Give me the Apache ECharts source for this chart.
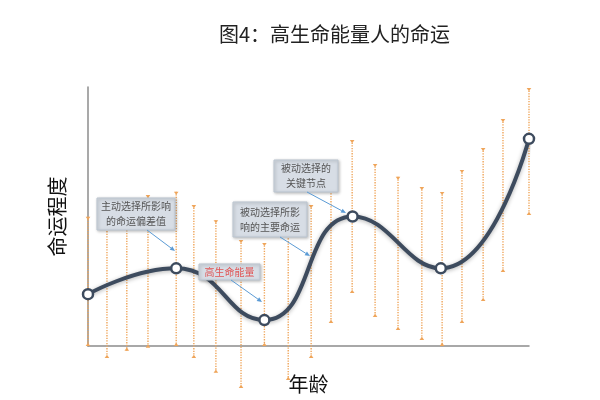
<!DOCTYPE html>
<html><head><meta charset="utf-8">
<script src="https://cdn.jsdelivr.net/npm/echarts@6/dist/echarts.min.js"></script>
<style>html,body{margin:0;padding:0;background:#fff}#c{width:600px;height:400px}</style>
</head><body><div id="c"></div>
<script>
const titleText = '图4：高生命能量人的命运';
const xAxisName = '年龄';
const yAxisName = '命运程度';
const curveAges = [0, 20, 40, 60, 80, 100];
const curveValues = [20, 30, 10, 50, 30, 80];
const barAges = [0, 4.3, 8.8, 13.6, 20, 24, 29, 34.7, 40, 45.4, 50.6, 55.1, 59.9, 65.1, 70.3, 75.7, 80.3, 84.8, 89.6, 94.1, 100];
const barTops = [49.9, 54.4, 51.7, 58.3, 59.6, 54.4, 48.6, 40.9, 39.8, 45.6, 54.4, 68, 79.5, 70.3, 65.3, 61.4, 59.5, 68, 76.4, 87.6, 99.6];
const barBottoms = [0, -4.6, -1.8, -0.7, 0, -4.6, -10.3, -16.2, 0, -13.1, -4.6, 8.9, 20.5, 11.2, 6.2, 2.3, 0, 8.9, 17.4, 28.6, 50.6];
const noteTexts = ['主动选择所影响\n的命运偏差值', '高生命能量', '被动选择所影\n响的主要命运', '被动选择的\n关键节点'];

const FONT = '"Noto Sans CJK SC", "Noto Sans", sans-serif';
const chart = echarts.init(document.getElementById('c'), null, {renderer: 'canvas'});

function note(text, x, y, w, h, color, ax1, ay1, ax2, ay2) {
  const dx = ax2 - ax1, dy = ay2 - ay1, L = Math.sqrt(dx*dx + dy*dy);
  const ux = dx / L, uy = dy / L, hl = 5, hw = 2.2;
  const bx = ax2 - ux*hl, by = ay2 - uy*hl;
  return [
    {type: 'rect', z: 20, shape: {x: x, y: y, width: w, height: h},
     style: {fill: '#D7DDE5', stroke: '#BBC5D0', lineWidth: 1, shadowBlur: 3, shadowColor: 'rgba(0,0,0,0.25)', shadowOffsetX: 1, shadowOffsetY: 1}},
    {type: 'text', z: 21, x: x + w/2, y: y + h/2,
     style: {text: text, fill: color, font: '10px ' + FONT, align: 'center', verticalAlign: 'middle', lineHeight: 15}},
    {type: 'line', z: 20, shape: {x1: ax1, y1: ay1, x2: bx, y2: by}, style: {stroke: '#5B9BD5', lineWidth: 1}},
    {type: 'polygon', z: 20, shape: {points: [[ax2, ay2], [bx - uy*hw, by + ux*hw], [bx + uy*hw, by - ux*hw]]}, style: {fill: '#5B9BD5'}}
  ];
}

const graphics = [].concat(
  note(noteTexts[0], 97, 198, 78, 32, '#555', 147, 230, 175, 251),
  note(noteTexts[1], 199, 264, 61, 16, '#E05555', 231, 280, 262, 302),
  note(noteTexts[2], 233, 202, 74, 35, '#555', 280, 237, 310, 256),
  note(noteTexts[3], 274, 160, 64, 32, '#555', 307, 192, 346, 213)
);

chart.setOption({
  backgroundColor: '#fff',
  animation: false,
  title: {text: titleText, left: 214, top: 19,
    textStyle: {fontFamily: FONT, fontSize: 20, fontWeight: 'normal', color: '#222'}},
  grid: {left: 88, right: 71, top: 87, bottom: 54, containLabel: false, outerBoundsMode: 'none'},
  xAxis: {type: 'value', min: 0, max: 100,
    name: xAxisName, nameLocation: 'middle', nameGap: 28,
    nameTextStyle: {fontFamily: FONT, fontSize: 20, color: '#111'},
    axisLine: {show: true, lineStyle: {color: '#8C8C8C', width: 1.5}},
    axisTick: {show: false}, axisLabel: {show: false}, splitLine: {show: false}},
  yAxis: {type: 'value', min: 0, max: 100,
    name: yAxisName, nameLocation: 'middle', nameGap: 21, nameRotate: 90,
    nameTextStyle: {fontFamily: FONT, fontSize: 20, color: '#111'},
    axisLine: {show: true, lineStyle: {color: '#8C8C8C', width: 1.5}},
    axisTick: {show: false}, axisLabel: {show: false}, splitLine: {show: false}},
  graphic: graphics,
  series: [
    {type: 'custom', clip: false, z: 2,
     encode: {x: 0, y: [1, 2]},
     data: barAges.map((a, i) => [a, barBottoms[i], barTops[i]]),
     renderItem: function (params, api) {
       const x = api.value(0), lo = api.value(1), hi = api.value(2);
       const p1 = api.coord([x, hi]), p2 = api.coord([x, lo]);
       const c = '#EFA55A';
       return {type: 'group', children: [
         {type: 'line', shape: {x1: p1[0], y1: p1[1], x2: p2[0], y2: p2[1]}, style: {stroke: c, lineWidth: 1.4, lineDash: [1.3, 1.3]}},
         {type: 'polygon', shape: {points: [[p1[0]-2.3, p1[1]], [p1[0]+2.3, p1[1]], [p1[0], p1[1]+3.2]]}, style: {fill: c}},
         {type: 'polygon', shape: {points: [[p2[0]-2.3, p2[1]], [p2[0]+2.3, p2[1]], [p2[0], p2[1]-3.2]]}, style: {fill: c}}
       ]};
     }},
    {type: 'line', z: 5, smooth: 0.5,
     data: curveAges.map((a, i) => [a, curveValues[i]]),
     symbol: 'circle', symbolSize: 10,
     itemStyle: {color: '#fff', borderColor: '#3D4B5E', borderWidth: 2.5},
     lineStyle: {color: '#3D4B5E', width: 4, shadowColor: 'rgba(0,0,0,0.3)', shadowBlur: 4, shadowOffsetY: 1}}
  ]
});
</script>
</body></html>
